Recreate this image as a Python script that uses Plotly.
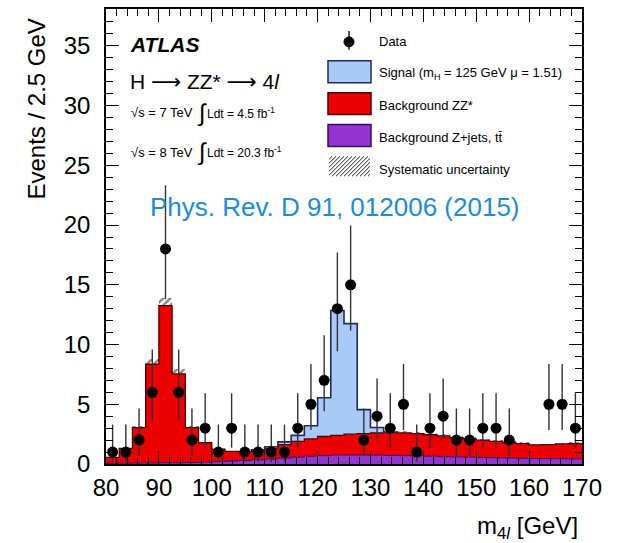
import plotly.graph_objects as go

# ---------------- data ----------------
bin_edges = [80.0 + 2.5 * i for i in range(37)]
bin_centers = [81.25 + 2.5 * i for i in range(36)]

data_counts = [1, 1, 2, 6, 18, 6, 2, 3, 1, 3,
               1, 1, 1, 1, 3, 5, 7, 13, 15, 2,
               4, 3, 5, 1, 3, 4, 2, 2, 3, 3,
               2, 0, 0, 5, 5, 3]
data_err_up = [2.30, 2.30, 2.64, 3.58, 5.33, 3.58, 2.64, 2.92, 2.30, 2.92,
               2.30, 2.30, 2.30, 2.30, 2.92, 3.38, 3.77, 4.71, 4.97, 2.64,
               3.16, 2.92, 3.38, 2.30, 2.92, 3.16, 2.64, 2.64, 2.92, 2.92,
               2.64, 0.0, 0.0, 3.38, 3.38, 2.92]
data_err_down = [0.83, 0.83, 1.29, 2.38, 4.21, 2.38, 1.29, 1.63, 0.83, 1.63,
                 0.83, 0.83, 0.83, 0.83, 1.63, 2.16, 2.58, 3.57, 3.84, 1.29,
                 1.91, 1.63, 2.16, 0.83, 1.63, 1.91, 1.29, 1.29, 1.63, 1.63,
                 1.29, 0.0, 0.0, 2.16, 2.16, 1.63]

bkg_zjets = [0.05, 0.06, 0.07, 0.08, 0.10, 0.10, 0.12, 0.15, 0.20, 0.25,
             0.30, 0.35, 0.42, 0.50, 0.58, 0.65, 0.70, 0.74, 0.75, 0.75,
             0.74, 0.72, 0.70, 0.68, 0.65, 0.62, 0.60, 0.57, 0.55, 0.52,
             0.50, 0.48, 0.46, 0.45, 0.44, 0.43]
bkg_zz = [0.50, 1.24, 2.98, 8.27, 13.15, 7.45, 2.93, 1.63, 1.02, 0.80,
          0.73, 0.81, 0.88, 1.12, 1.32, 1.45, 1.60, 1.66, 1.75, 1.80,
          1.86, 1.90, 1.90, 1.87, 1.80, 1.73, 1.60, 1.53, 1.45, 1.38,
          1.30, 1.22, 1.14, 1.17, 1.24, 1.27]
signal = [0, 0, 0, 0, 0, 0, 0, 0, 0, 0,
          0, 0.02, 0.14, 0.23, 0.50, 1.10, 3.25, 10.45, 9.25, 2.00,
          0.45, 0.05, 0, 0, 0, 0, 0, 0, 0, 0,
          0, 0, 0, 0, 0, 0]
syst_unc = [0.05, 0.08, 0.15, 0.40, 0.65, 0.38, 0.15, 0.10, 0.08, 0.07,
            0.07, 0.08, 0.09, 0.10, 0.11, 0.12, 0.13, 0.13, 0.14, 0.14,
            0.14, 0.14, 0.14, 0.14, 0.13, 0.13, 0.12, 0.12, 0.11, 0.11,
            0.10, 0.10, 0.09, 0.09, 0.10, 0.10]

x_ticks = [80, 90, 100, 110, 120, 130, 140, 150, 160, 170]
y_ticks = [0, 5, 10, 15, 20, 25, 30, 35]

# ---------------- styling ----------------
FONT = "Liberation Sans, Arial, Helvetica, sans-serif"
C_RED = "#ee0000"
C_RED_LINE = "#4a0000"
C_BLUE = "#a9c9f7"
C_BLUE_LINE = "#1c2b5a"
C_PURPLE = "#9434d0"
C_PURPLE_LINE = "#3b0b5e"

W, H = 619, 543
PL, PR, PT, PB = 106, 582, 7, 464


def px(x):
    return (x - PL) / (PR - PL)


def py(y):
    return (PB - y) / (PB - PT)


# stacked levels
lvl_zjets = list(bkg_zjets)
lvl_bkg = [a + b for a, b in zip(bkg_zjets, bkg_zz)]
lvl_sig = [a + b for a, b in zip(lvl_bkg, signal)]


def step_y(vals):
    return list(vals) + [vals[-1]]


fig = go.Figure()

# filled stacked areas (step shape)
fig.add_trace(go.Scatter(x=bin_edges, y=step_y(lvl_zjets), mode="lines",
                         line=dict(shape="hv", width=0), fill="tozeroy",
                         fillcolor=C_PURPLE, hoverinfo="skip", showlegend=False))
fig.add_trace(go.Scatter(x=bin_edges, y=step_y(lvl_bkg), mode="lines",
                         line=dict(shape="hv", width=0), fill="tonexty",
                         fillcolor=C_RED, hoverinfo="skip", showlegend=False))
fig.add_trace(go.Scatter(x=bin_edges, y=step_y(lvl_sig), mode="lines",
                         line=dict(shape="hv", width=0), fill="tonexty",
                         fillcolor=C_BLUE, hoverinfo="skip", showlegend=False))

# outlines
fig.add_trace(go.Scatter(x=bin_edges, y=step_y(lvl_zjets), mode="lines",
                         line=dict(shape="hv", width=1, color=C_PURPLE_LINE),
                         hoverinfo="skip", showlegend=False))
fig.add_trace(go.Scatter(x=bin_edges, y=step_y(lvl_bkg), mode="lines",
                         line=dict(shape="hv", width=1.3, color=C_RED_LINE),
                         hoverinfo="skip", showlegend=False))

# signal outline only where signal is present
sig_idx = [i for i, s in enumerate(signal) if s > 0]
i0, i1 = sig_idx[0], sig_idx[-1]
sx = [bin_edges[i0]] + bin_edges[i0:i1 + 2] + [bin_edges[i1 + 1]]
sy = [lvl_bkg[i0]] + lvl_sig[i0:i1 + 1] + [lvl_sig[i1], lvl_bkg[i1]]
fig.add_trace(go.Scatter(x=sx, y=sy, mode="lines",
                         line=dict(shape="hv", width=1.6, color=C_BLUE_LINE),
                         hoverinfo="skip", showlegend=False))

# systematic uncertainty hatch
fig.add_trace(go.Bar(x=bin_centers, y=[2 * s for s in syst_unc],
                     base=[b - s for b, s in zip(lvl_bkg, syst_unc)],
                     width=2.5,
                     marker=dict(color="rgba(0,0,0,0)", line=dict(width=0),
                                 pattern=dict(shape="/", fgcolor="#000000",
                                              bgcolor="rgba(0,0,0,0)",
                                              size=5, solidity=0.45,
                                              fillmode="overlay")),
                     hoverinfo="skip", showlegend=False))

# data points
dx = [c for c, n in zip(bin_centers, data_counts) if n > 0]
dy = [n for n in data_counts if n > 0]
du = [u for u, n in zip(data_err_up, data_counts) if n > 0]
dd = [d for d, n in zip(data_err_down, data_counts) if n > 0]
fig.add_trace(go.Scatter(x=dx, y=dy, mode="markers",
                         marker=dict(color="black", size=11),
                         error_y=dict(type="data", symmetric=False, array=du,
                                      arrayminus=dd, thickness=1.4, width=0,
                                      color="#333333"),
                         showlegend=False))

# ---------------- legend (drawn by hand) ----------------
shapes = []
annotations = []

# Data symbol
shapes.append(dict(type="line", xref="paper", yref="paper",
                   x0=px(349), x1=px(349), y0=py(29), y1=py(48),
                   line=dict(color="#222222", width=1.5)))
shapes.append(dict(type="circle", xref="paper", yref="paper",
                   x0=px(344), x1=px(354), y0=py(35), y1=py(45),
                   fillcolor="black", line=dict(color="black", width=1)))

boxes = [(59, 81, C_BLUE, C_BLUE_LINE),
         (91, 113, C_RED, C_RED_LINE),
         (123, 145, C_PURPLE, C_PURPLE_LINE)]
for y0, y1, fc, lc in boxes:
    shapes.append(dict(type="rect", xref="paper", yref="paper",
                       x0=px(328), x1=px(371), y0=py(y1), y1=py(y0),
                       fillcolor=fc, line=dict(color=lc, width=1.5)))

# hatch sample
hx0, hx1, hy0, hy1 = 329, 370, 155, 175
c = hx0 + hy0 + 3
while c < hx1 + hy1:
    xa, ya = c - hy1, hy1
    if xa < hx0:
        xa, ya = hx0, c - hx0
    xb, yb = c - hy0, hy0
    if xb > hx1:
        xb, yb = hx1, c - hx1
    shapes.append(dict(type="line", xref="paper", yref="paper",
                       x0=px(xa), y0=py(ya), x1=px(xb), y1=py(yb),
                       line=dict(color="#222222", width=1)))
    c += 4

leg_texts = [("Data", 40),
             ("Signal (m<sub>H</sub> = 125 GeV μ = 1.51)", 72),
             ("Background ZZ*", 104),
             ("Background Z+jets, tt̄", 136),
             ("Systematic uncertainty", 168)]
for t, yc in leg_texts:
    annotations.append(dict(text=t, xref="paper", yref="paper", x=px(377), y=py(yc),
                            xanchor="left", yanchor="middle", showarrow=False,
                            font=dict(family=FONT, size=13, color="black")))


def ann(text, x, y, size, xanchor="left", color="black", **kw):
    d = dict(text=text, xref="paper", yref="paper", x=px(x), y=py(y),
             xanchor=xanchor, yanchor="middle", showarrow=False,
             font=dict(family=FONT, size=size, color=color))
    d.update(kw)
    annotations.append(d)


ARROW = "<span style='font-family:DejaVu Sans'>⟶</span>"
ann("<b><i>ATLAS</i></b>", 128, 43, 21)
ann("H " + ARROW + " ZZ* " + ARROW + " 4<i>l</i>", 128, 80, 21)
ann("√s = 7 TeV", 129, 111, 13)
ann("∫", 195, 111, 24)
ann("Ldt = 4.5 fb<sup>-1</sup>", 205, 111, 12)
ann("√s = 8 TeV", 129, 151, 13)
ann("∫", 195, 151, 24)
ann("Ldt = 20.3 fb<sup>-1</sup>", 205, 151, 12)
ann("Phys. Rev. D 91, 012006 (2015)", 148, 206, 26, color="#1a8cd8")
ann("Events / 2.5 GeV", 37, 108, 24, xanchor="center", textangle=-90)
ann("m<sub>4<i>l</i></sub> [GeV]", 580, 528, 24, xanchor="right")

axis_common = dict(showline=True, linecolor="black", linewidth=1.5, mirror="ticks",
                   ticks="inside", tickcolor="black", tickwidth=1,
                   showgrid=False, zeroline=False,
                   tickfont=dict(family=FONT, size=24, color="black"))

fig.update_layout(
    width=W, height=H,
    margin=dict(l=PL, r=W - PR, t=PT, b=H - PB),
    paper_bgcolor="white", plot_bgcolor="white",
    barmode="overlay", bargap=0,
    showlegend=False,
    xaxis=dict(range=[80, 170], tickvals=x_ticks, ticklen=13,
               minor=dict(dtick=2, ticks="inside", ticklen=7, tickcolor="black", tickwidth=1),
               ticklabelstandoff=1, **axis_common),
    yaxis=dict(range=[0, (PB - PT) / 12.0], tickvals=y_ticks, ticklen=13,
               minor=dict(dtick=1, ticks="inside", ticklen=7, tickcolor="black", tickwidth=1),
               ticklabelstandoff=9, **axis_common),
    shapes=shapes,
    annotations=annotations,
)

fig.write_html("out.html")
